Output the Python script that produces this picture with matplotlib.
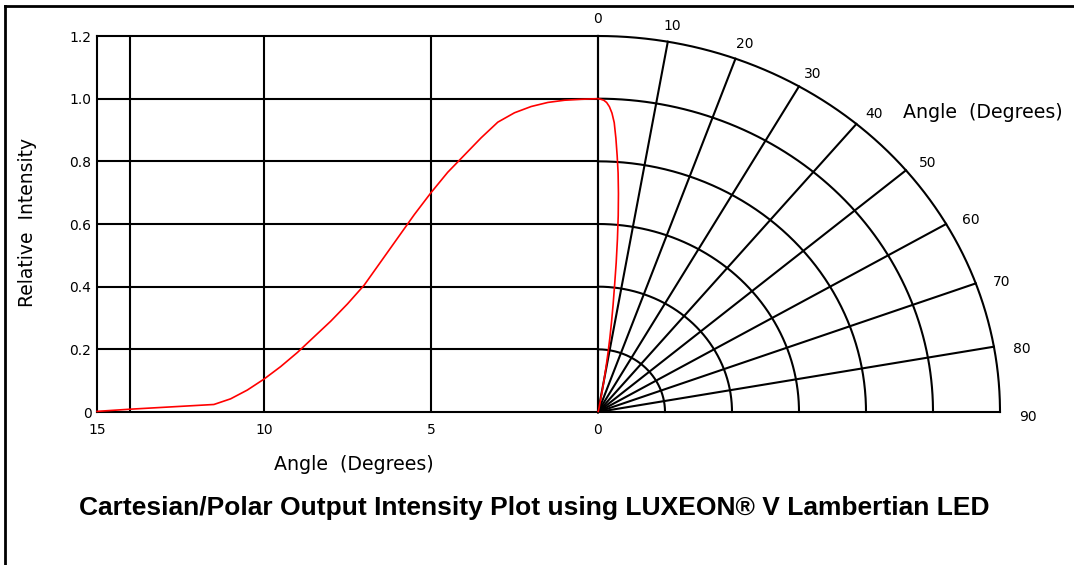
import numpy as np
import matplotlib
matplotlib.use('Agg')
import matplotlib.pyplot as plt
from matplotlib.lines import Line2D

# angle (degrees) vs relative intensity
angles = [0, 0.5, 1.0, 1.5, 2.0, 2.5, 3.0, 3.5, 4.0, 4.5, 5.0, 5.5, 6.0, 6.5, 7.0,
          7.5, 8.0, 8.5, 9.0, 9.5, 10.0, 10.5, 11.0, 11.5, 12.5, 13.5, 14.0, 15.0]
intensity = [1.0, 0.998, 0.995, 0.988, 0.975, 0.955, 0.925, 0.875, 0.82, 0.765, 0.70,
             0.63, 0.555, 0.48, 0.405, 0.345, 0.29, 0.24, 0.19, 0.145, 0.105, 0.07,
             0.042, 0.024, 0.018, 0.012, 0.009, 0.002]

x_ticks = [15, 10, 5, 0]
x_lines = [14, 10, 5]
y_ticks = [0, 0.2, 0.4, 0.6, 0.8, 1.0, 1.2]
y_labels = ['0', '0.2', '0.4', '0.6', '0.8', '1.0', '1.2']
polar_angles = [0, 10, 20, 30, 40, 50, 60, 70, 80, 90]
polar_rings = [0.2, 0.4, 0.6, 0.8, 1.0, 1.2]

W, H = 1074, 565
fig = plt.figure(figsize=(W/100, H/100), dpi=100)
lw = 1.5

# cartesian part
ax = fig.add_axes([97/W, 153/H, 501/W, 376/H])
ax.set_xlim(15, 0)
ax.set_ylim(0, 1.2)
ax.set_xticks(x_ticks)
ax.set_xticklabels([str(v) for v in x_ticks])
ax.set_yticks(y_ticks)
ax.set_yticklabels(y_labels)
ax.tick_params(length=0, labelsize=10)
ax.tick_params(axis='y', pad=4)
ax.tick_params(axis='x', pad=8)
for s in ax.spines.values():
    s.set_linewidth(lw)
    s.set_color('black')
for v in x_lines:
    ax.axvline(v, color='black', lw=lw)
for v in y_ticks[1:-1]:
    ax.axhline(v, color='black', lw=lw)
ax.plot(angles, intensity, color='red', lw=1.2, zorder=5, clip_on=False)

# polar part (own axes, so it keeps the stretched look)
axp = fig.add_axes([598/W, 153/H, 402/W, 376/H])
axp.set_xlim(0, 1.2)
axp.set_ylim(0, 1.2)
axp.axis('off')
t = np.radians(np.linspace(0, 90, 200))
for r in polar_rings:
    axp.plot(r*np.sin(t), r*np.cos(t), color='black', lw=lw, clip_on=False)
for a in polar_angles:
    th = np.radians(a)
    axp.plot([0, 1.2*np.sin(th)], [0, 1.2*np.cos(th)], color='black', lw=lw, clip_on=False)
    dx = 28*np.sin(th)
    dy = 17*np.cos(th) - 5*np.sin(th)
    axp.annotate(str(a), (1.2*np.sin(th), 1.2*np.cos(th)), xytext=(dx*0.72, dy*0.72),
                 textcoords='offset points', ha='center', va='center', fontsize=10)
th = np.radians(angles)
axp.plot(np.array(intensity)*np.sin(th), np.array(intensity)*np.cos(th),
         color='red', lw=1.2, zorder=5, clip_on=False)
axp.text(0.91, 0.955, 'Angle  (Degrees)', ha='left', va='center', fontsize=13.7)

# labels and title
fig.text(28/W, 1-222/H, 'Relative  Intensity', rotation=90, ha='center', va='center', fontsize=13.5)
fig.text(354/W, 1-465/H, 'Angle  (Degrees)', ha='center', va='center', fontsize=13.7)
fig.text(534/W, 1-508/H, 'Cartesian/Polar Output Intensity Plot using LUXEON® V Lambertian LED',
         ha='center', va='center', fontsize=19, fontweight='bold', family='Liberation Sans')

# frame lines at left and top
fig.add_artist(Line2D([5/W, 5/W], [0, 1-6/H], color='black', lw=2))
fig.add_artist(Line2D([5/W, 1], [1-6/H, 1-6/H], color='black', lw=2))

fig.savefig('out.png', dpi=100)
